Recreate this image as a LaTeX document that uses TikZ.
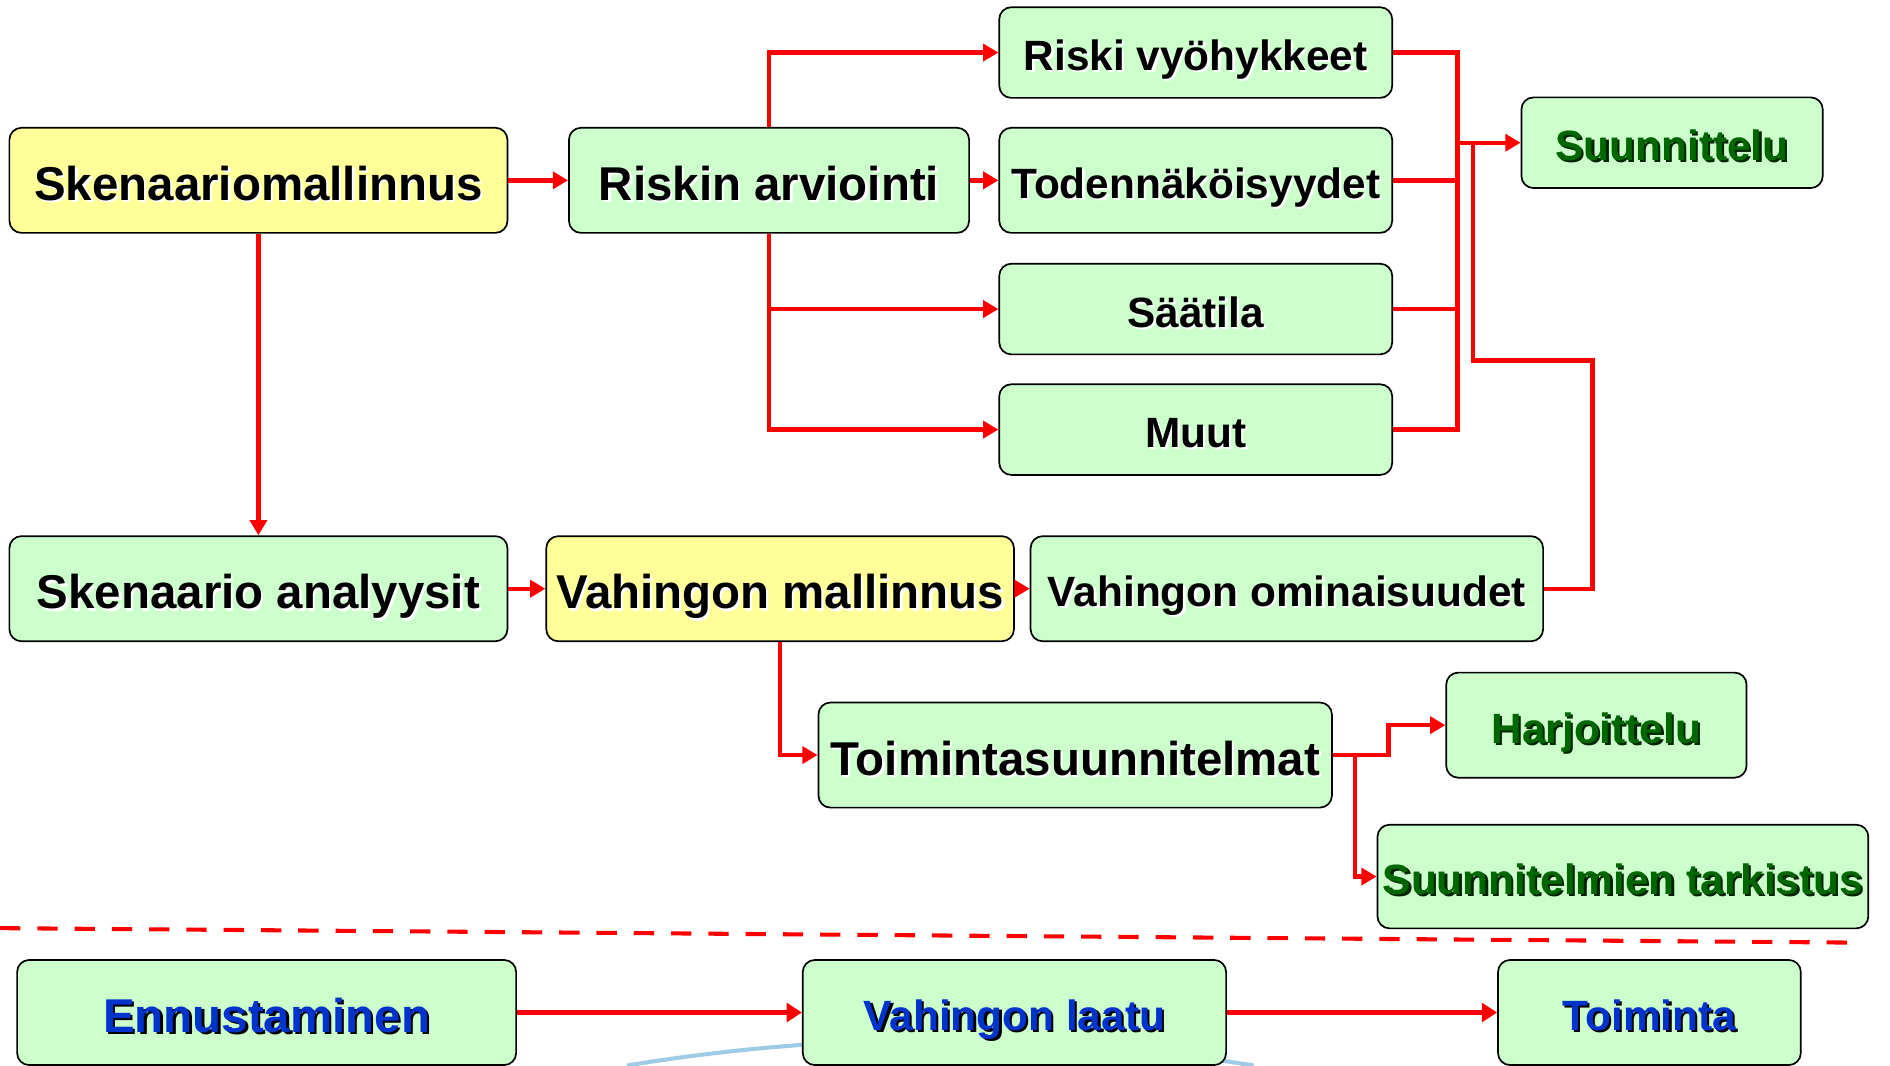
\documentclass[tikz,border=0pt]{standalone}
\usepackage{fontspec}
\setmainfont{Liberation Sans}
\usetikzlibrary{arrows.meta, positioning, calc}
\definecolor{cbox}{HTML}{CCFFCC}
\definecolor{cyel}{HTML}{FFFF99}
\definecolor{cred}{HTML}{FF0000}
\definecolor{cdgreen}{HTML}{006600}
\definecolor{cshgreen}{HTML}{002200}
\definecolor{cblue}{HTML}{0033CC}
\definecolor{carc}{HTML}{9ECBE6}
% text with a small offset shadow
\newcommand{\shadowed}[3]{\makebox[0pt][l]{\kern1.3pt\raisebox{-1.3pt}{\textcolor{#2}{#3}}}\textcolor{#1}{#3}}

\begin{document}
\begin{tikzpicture}[
  box/.style={draw=black, line width=1pt, rounded corners=0.25cm, fill=cbox,
              inner sep=0pt, anchor=center, minimum height=2.18cm, text depth=0pt},
  ybox/.style={box, fill=cyel},
  big/.style={font=\fontsize{28}{32}\selectfont\bfseries, text height=23.8pt},
  small/.style={font=\fontsize{25}{29}\selectfont\bfseries, text height=21.3pt},
  wire/.style={draw=cred, line width=2.6pt},
  arr/.style={wire, -{Triangle[length=9pt, width=10pt]}},
  fat/.style={draw=cred, line width=3.2pt, -{Triangle[length=9pt, width=11pt]}},
]
\useasboundingbox (0,0) rectangle (39.2,-22.1);
% background arc behind the bottom row
\draw[carc, line width=2.4pt] (13,-22.1) .. controls (17.33,-21.39) and (21.67,-21.39) .. (26,-22.1);
% Top row
\node[ybox, big, minimum width=10.33cm] (skm) at (5.36,-3.74) {\shadowed{black}{white}{Skenaariomallinnus}};
\node[box, big, minimum width=8.3cm] (risk) at (15.95,-3.74) {\shadowed{black}{white}{Riskin arviointi}};
\foreach \name/\y/\h/\txt in {
  vyo/-1.09/1.88/Riski vyöhykkeet,
  tod/-3.74/2.18/Todennäköisyydet,
  saa/-6.41/1.88/Säätila,
  muut/-8.91/1.88/Muut%
}{
  \node[box, small, minimum width=8.15cm, minimum height=\h cm] (\name) at (24.8,\y) {\shadowed{black}{white}{\txt}};
}
\node[box, small, minimum width=6.25cm, minimum height=1.88cm] (suun) at (34.68,-2.96) {\shadowed{cdgreen}{cshgreen}{Suunnittelu}};
% Middle rows
\node[box, big, minimum width=10.33cm] (ska) at (5.36,-12.21) {\shadowed{black}{white}{Skenaario analyysit}};
\node[ybox, big, minimum width=9.7cm] (vmal) at (16.18,-12.21) {\shadowed{black}{white}{Vahingon mallinnus}};
\node[box, small, minimum width=10.63cm] (vomi) at (26.69,-12.21) {\shadowed{black}{white}{Vahingon ominaisuudet}};
\node[box, big, minimum width=10.65cm] (toim) at (22.3,-15.66) {\shadowed{black}{white}{Toimintasuunnitelmat}};
\node[box, small, minimum width=6.23cm] (harj) at (33.11,-15.04) {\shadowed{cdgreen}{cshgreen}{Harjoittelu}};
\node[box, small, minimum width=10.18cm, minimum height=2.15cm] (tark) at (33.66,-18.18) {\shadowed{cdgreen}{cshgreen}{Suunnitelmien tarkistus}};
% Bottom row
\node[box, big, minimum width=10.35cm] (enn) at (5.53,-21.0) {\shadowed{cblue}{black}{Ennustaminen}};
\node[box, small, minimum width=8.78cm] (laatu) at (21.04,-21.0) {\shadowed{cblue}{black}{Vahingon laatu}};
\node[box, small, minimum width=6.28cm] (toiminta) at (34.21,-21.0) {\shadowed{cblue}{black}{Toiminta}};
% Connectors
\draw[arr] (skm) -- (risk);
\draw[arr] (skm) -- (ska);
\draw[arr] (risk.north) |- (vyo.west);
\draw[arr] (risk) -- (tod);
\draw[arr] (risk.south) |- (saa.west);
\draw[arr] (risk.south) |- (muut.west);
\coordinate (bus) at (30.23,-5);
\draw[wire] (vyo.east) -| (bus) |- (muut.east);
\draw[wire] (tod.east) -- (tod.east -| bus);
\draw[wire] (saa.east) -- (saa.east -| bus);
\draw[arr] (suun.west -| bus) -- (suun.west);
\coordinate (back) at (33.03,-7.48);
\coordinate (join) at (30.55,-7.48);
\draw[wire] (vomi.east) -| (back) -- (join) -- (join |- suun.west);
\draw[arr] (ska) -- (vmal);
\draw[arr] (vmal) -- (vomi);
\draw[arr] (vmal.south) |- (toim.west);
\coordinate (up) at (28.8,-15.3);
\coordinate (down) at (28.1,-17);
\draw[arr] (toim.east) -| (up) |- (harj.west);
\draw[arr] (toim.east -| down) |- (tark.west);
% Separator
\coordinate (sepl) at (0,-19.25);
\coordinate (sepr) at (38.43,-19.55);
\draw[cred, line width=2.4pt, dash pattern=on 12pt off 10pt] (sepl) -- (sepr);
\draw[fat] (enn) -- (laatu);
\draw[fat] (laatu) -- (toiminta);
\end{tikzpicture}
\end{document}
